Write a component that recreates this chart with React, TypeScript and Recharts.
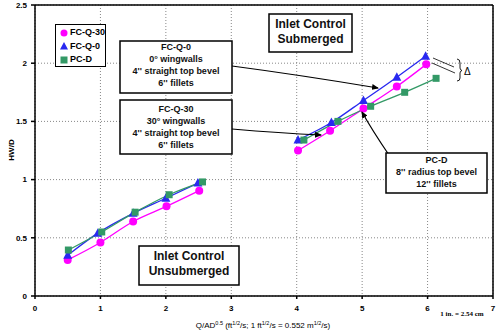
import React from "react";
import {
  ComposedChart,
  Line,
  XAxis,
  YAxis,
  CartesianGrid,
  ReferenceLine,
  Legend,
} from "recharts";

const seriesNames = ["FC-Q-30", "FC-Q-0", "PC-D"];

// unsubmerged (low) range
const fcq30LowX = [0.5, 1.0, 1.5, 2.01, 2.51];
const fcq30LowY = [0.31, 0.46, 0.64, 0.77, 0.905];
const fcq0LowX = [0.5, 0.96, 1.5, 2.0, 2.49];
const fcq0LowY = [0.35, 0.54, 0.71, 0.84, 0.97];
const pcdLowX = [0.51, 1.02, 1.53, 2.05, 2.56];
const pcdLowY = [0.395, 0.55, 0.72, 0.87, 0.98];

// submerged (high) range
const fcq30HighX = [4.02, 4.51, 5.02, 5.53, 5.98];
const fcq30HighY = [1.25, 1.42, 1.61, 1.8, 1.99];
const fcq0HighX = [4.02, 4.53, 5.02, 5.53, 5.97];
const fcq0HighY = [1.34, 1.49, 1.68, 1.88, 2.06];
const pcdHighX = [4.11, 4.63, 5.13, 5.65, 6.13];
const pcdHighY = [1.34, 1.5, 1.63, 1.75, 1.87];

const xTicks = [0, 1, 2, 3, 4, 5, 6, 7];
const yTicks = [0, 0.5, 1, 1.5, 2, 2.5];

const MAGENTA = "#ff00ff";
const BLUE = "#2828f0";
const GREEN = "#339966";
const FONT = "'Liberation Sans', Arial, sans-serif";

const pts = (xs: number[], ys: number[]) => xs.map((x, i) => ({ x, y: ys[i] }));

const circleDot = (props: any) => (
  <circle key={`c${props.index}`} cx={props.cx} cy={props.cy} r={4} fill={MAGENTA} />
);
const triangleDot = (props: any) => (
  <polygon
    key={`t${props.index}`}
    points={`${props.cx},${props.cy - 5} ${props.cx - 4.5},${props.cy + 3.5} ${props.cx + 4.5},${props.cy + 3.5}`}
    fill={BLUE}
  />
);
const squareDot = (props: any) => (
  <rect key={`s${props.index}`} x={props.cx - 3.5} y={props.cy - 3.5} width={7} height={7} fill={GREEN} />
);

const markerFor = (name: string) => {
  if (name === "FC-Q-30") return <circle cx={5} cy={5} r={3.5} fill={MAGENTA} />;
  if (name === "FC-Q-0") return <polygon points="5,1 1,8.5 9,8.5" fill={BLUE} />;
  return <rect x={1.5} y={1.5} width={7} height={7} fill={GREEN} />;
};

const renderLegend = (props: any) => {
  const items = (props.payload || [])
    .filter((p: any) => seriesNames.includes(p.value))
    .sort((a: any, b: any) => seriesNames.indexOf(a.value) - seriesNames.indexOf(b.value));
  return (
    <div
      style={{
        border: "1px solid #000",
        background: "#fff",
        width: 51,
        height: 43,
        boxSizing: "border-box",
        padding: "1px 0 0 3px",
        fontFamily: FONT,
        fontSize: 9,
        fontWeight: "bold",
        lineHeight: "13.5px",
      }}
    >
      {items.map((p: any) => (
        <div key={p.value} style={{ display: "flex", alignItems: "center" }}>
          <svg width={10} height={10}>{markerFor(p.value)}</svg>
          <span style={{ marginLeft: 1 }}>{p.value}</span>
        </div>
      ))}
    </div>
  );
};

const Box = ({ x, y, w, h, lines, size, first }: any) => (
  <g>
    <rect x={x} y={y} width={w} height={h} fill="#fff" stroke="#000" strokeWidth={1.5} />
    {lines.map((t: string, i: number) => (
      <text
        key={i}
        x={x + w / 2}
        y={first + i * (size + 3)}
        textAnchor="middle"
        fontFamily={FONT}
        fontSize={size}
        fontWeight="bold"
        fill="#111"
      >
        {t}
      </text>
    ))}
  </g>
);

export default function App() {
  return (
    <div style={{ position: "absolute", left: 0, top: 0, width: 498, height: 334, background: "#fff" }}>
      <ComposedChart width={498} height={334} margin={{ top: 5, right: 5, left: 0, bottom: 0 }}>
        <CartesianGrid stroke="#888" strokeDasharray="1 2" />
        <XAxis
          dataKey="x"
          type="number"
          domain={[0, 7]}
          ticks={xTicks}
          allowDataOverflow
          height={38}
          stroke="#000"
          strokeWidth={1.5}
          tickSize={3}
          tickMargin={6}
          tick={{ fill: "#000", fontSize: 8, fontWeight: "bold", fontFamily: FONT }}
        />
        <YAxis
          type="number"
          domain={[0, 2.5]}
          ticks={yTicks}
          width={35}
          stroke="#000"
          strokeWidth={1.5}
          tickSize={4}
          tickMargin={4}
          tick={{ fill: "#000", fontSize: 8, fontWeight: "bold", fontFamily: FONT }}
        />
        <ReferenceLine y={2.5} stroke="#000" strokeWidth={1.5} />
        <ReferenceLine x={7} stroke="#000" strokeWidth={1.5} />
        <Legend
          layout="vertical"
          align="center"
          verticalAlign="middle"
          content={renderLegend}
          wrapperStyle={{ position: "absolute", left: 55, top: 24, width: 51, height: 43 }}
        />
        <Line data={pts(fcq30LowX, fcq30LowY)} dataKey="y" name="FC-Q-30" type="monotone" stroke={MAGENTA} strokeWidth={1.3} dot={circleDot} isAnimationActive={false} />
        <Line data={pts(fcq0LowX, fcq0LowY)} dataKey="y" name="FC-Q-0" type="monotone" stroke={BLUE} strokeWidth={1.3} dot={triangleDot} isAnimationActive={false} />
        <Line data={pts(pcdLowX, pcdLowY)} dataKey="y" name="PC-D" type="monotone" stroke={GREEN} strokeWidth={1.3} dot={squareDot} isAnimationActive={false} />
        <Line data={pts(fcq30HighX, fcq30HighY)} dataKey="y" name="FC-Q-30 sub" legendType="none" type="monotone" stroke={MAGENTA} strokeWidth={1.3} dot={circleDot} isAnimationActive={false} />
        <Line data={pts(fcq0HighX, fcq0HighY)} dataKey="y" name="FC-Q-0 sub" legendType="none" type="monotone" stroke={BLUE} strokeWidth={1.3} dot={triangleDot} isAnimationActive={false} />
        <Line data={pts(pcdHighX, pcdHighY)} dataKey="y" name="PC-D sub" legendType="none" type="monotone" stroke={GREEN} strokeWidth={1.3} dot={squareDot} isAnimationActive={false} />
      </ComposedChart>

      <svg width={498} height={334} style={{ position: "absolute", left: 0, top: 0, pointerEvents: "none" }}>
        <defs>
          <marker id="arr" markerWidth={7} markerHeight={6} refX={6} refY={3} orient="auto" markerUnits="userSpaceOnUse">
            <path d="M0,0 L7,3 L0,6 Z" fill="#000" />
          </marker>
        </defs>

        {/* annotation arrows */}
        <path d="M232,66 Q300,75 378,88" fill="none" stroke="#000" strokeWidth={1.2} markerEnd="url(#arr)" />
        <path d="M232,129 Q280,133 321,135" fill="none" stroke="#000" strokeWidth={1.2} markerEnd="url(#arr)" />
        <path d="M389,155 Q372,130 362,112" fill="none" stroke="#000" strokeWidth={1.2} markerEnd="url(#arr)" />

        {/* delta marker */}
        <line x1={433} y1={58} x2={454} y2={67} stroke="#000" strokeWidth={0.8} />
        <line x1={432} y1={63} x2={455} y2={73} stroke="#000" strokeWidth={0.8} />
        <path d="M457,59 Q460,59 460,63 L460,68 Q460,70 462,70.5 Q460,71 460,73 L460,78 Q460,81 457,81" fill="none" stroke="#000" strokeWidth={0.9} />
        <text x={464} y={75} fontFamily={FONT} fontSize={10} fill="#000">Δ</text>

        <Box x={120} y={41} w={112} h={52} size={9} first={50} lines={["FC-Q-0", "0° wingwalls", "4'' straight top bevel", "6'' fillets"]} />
        <Box x={120} y={100} w={112} h={54} size={9} first={112} lines={["FC-Q-30", "30° wingwalls", "4'' straight top bevel", "6'' fillets"]} />
        <Box x={269} y={14} w={83} h={38} size={12} first={28} lines={["Inlet Control", "Submerged"]} />
        <Box x={139} y={246} w={100} h={39} size={12} first={260} lines={["Inlet Control", "Unsubmerged"]} />
        <Box x={386} y={153} w={101} h={40} size={9} first={163} lines={["PC-D", "8'' radius top bevel", "12'' fillets"]} />

        {/* axis titles */}
        <text transform="translate(14,150) rotate(-90)" textAnchor="middle" fontFamily={FONT} fontSize={8} fontWeight="bold" fill="#000">
          HW/D
        </text>
        <text x={263} y={328} textAnchor="middle" fontFamily={FONT} fontSize={8} fill="#000">
          Q/AD<tspan fontSize={5.5} dy={-3}>0.5</tspan>
          <tspan dy={3}> (ft</tspan>
          <tspan fontSize={5.5} dy={-3}>1/2</tspan>
          <tspan dy={3}>/s; 1 ft</tspan>
          <tspan fontSize={5.5} dy={-3}>1/2</tspan>
          <tspan dy={3}>/s = 0.552 m</tspan>
          <tspan fontSize={5.5} dy={-3}>1/2</tspan>
          <tspan dy={3}>/s)</tspan>
        </text>
        <text x={462} y={316} textAnchor="middle" fontFamily="'Liberation Serif', 'Times New Roman', serif" fontSize={7} fontWeight="bold" fill="#000">
          1 in. = 2.54 cm
        </text>
      </svg>
    </div>
  );
}
